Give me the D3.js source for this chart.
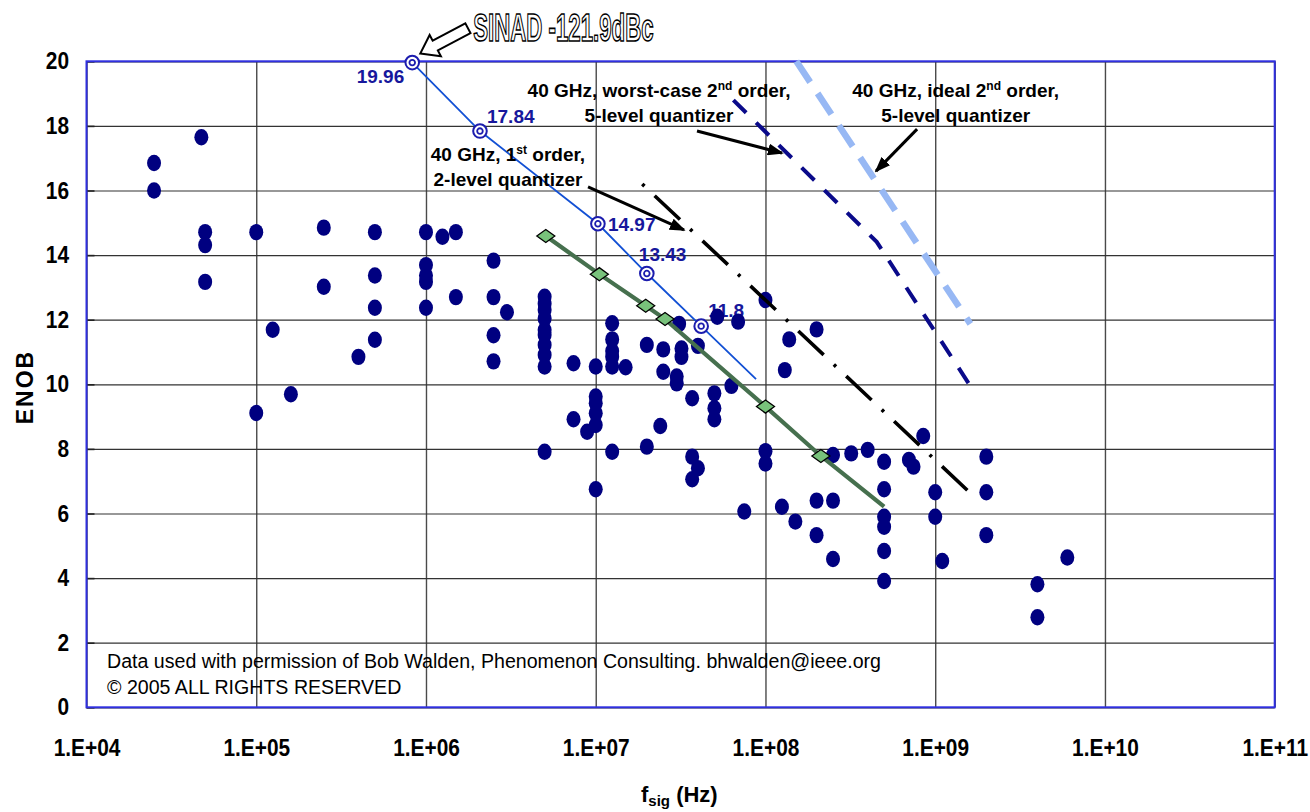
<!DOCTYPE html>
<html>
<head>
<meta charset="utf-8">
<script src="https://cdn.jsdelivr.net/npm/d3@7"></script>
<style>
  body { margin: 0; background: #fff; }
  svg { display: block; font-family: "Liberation Sans", Arial, sans-serif; }
</style>
</head>
<body>
<svg id="chart"></svg>
<script>
//survey points: signal frequency (Hz) and ENOB
let dotFreq = [
  2.5e4, 2.5e4, 4.75e4, 5e4, 5e4, 5e4, 1e5, 1.25e5, 1e5, 1.6e5,
  2.5e5, 2.5e5, 4e5, 5e5, 5e5, 5e5, 5e5, 1e6, 1e6, 1e6,
  1e6, 1e6, 1.25e6, 1.5e6, 1.5e6, 2.5e6, 2.5e6, 2.5e6, 2.5e6, 3e6,
  5e6, 5e6, 5e6, 5e6, 5e6, 5e6, 5e6, 5e6, 5e6, 5e6,
  7.4e6, 1e7, 1.25e7, 1.25e7, 1.25e7, 1.25e7, 1.25e7, 1.5e7, 1e7, 1e7,
  1e7, 1e7, 7.4e6, 8.9e6, 1.25e7, 1e7, 2e7, 2.5e7, 3.1e7, 3.2e7,
  3.2e7, 2.5e7, 3e7, 3e7, 4e7, 5.2e7, 6.9e7, 6.3e7, 5e7, 5e7,
  5e7, 3.7e7, 2.4e7, 2e7, 3.7e7, 4e7, 3.7e7, 1e8, 1.38e8, 1.3e8,
  2e8, 1e8, 1e8, 7.5e7, 1.25e8, 1.5e8, 2e8, 2.5e8, 2e8, 2.5e8,
  3.2e8, 4e8, 5e8, 7e8, 7.45e8, 8.5e8, 5e8, 5e8, 5e8, 1e9,
  1e9, 2e9, 2e9, 2e9, 2.5e8, 5e8, 5e8, 1.1e9, 4e9, 4e9, 6e9
];
let dotEnob = [
  16.85, 16.0, 17.65, 14.71, 14.31, 13.17, 14.71, 11.69, 9.11, 9.69,
  14.85, 13.02, 10.85, 14.71, 13.37, 12.37, 11.38, 14.71, 13.69, 13.37,
  13.17, 12.37, 14.57, 14.71, 12.7, 13.83, 12.7, 11.52, 10.71, 12.23,
  12.71, 12.49, 12.3, 12.04, 11.68, 11.53, 11.22, 10.91, 10.55, 7.91,
  10.65, 10.55, 11.89, 11.39, 11.03, 10.85, 10.55, 10.53, 9.62, 9.41,
  9.1, 8.74, 8.92, 8.53, 7.91, 6.75, 11.22, 11.08, 11.87, 11.11,
  10.85, 10.39, 10.24, 10.03, 11.19, 12.09, 11.94, 9.95, 9.72, 9.26,
  8.92, 9.57, 8.71, 8.07, 7.76, 7.4, 7.06, 12.61, 11.39, 10.44,
  11.7, 7.93, 7.55, 6.06, 6.21, 5.75, 6.4, 6.4, 5.33, 7.81,
  7.86, 7.97, 7.6, 7.66, 7.45, 8.4, 6.75, 5.9, 5.59, 6.66,
  5.9, 7.76, 6.66, 5.33, 4.59, 4.84, 3.91, 4.53, 3.81, 2.79, 4.64
];

//SINAD -121.9dBc line, last point has no marker
let sinadFreq = [8.3e5, 2.08e6, 1.03e7, 2e7, 4.18e7, 8.8e7];
let sinadEnob = [19.96, 17.84, 14.97, 13.43, 11.8, 10.16];
let sinadLabels = ["19.96", "17.84", "14.97", "13.43", "11.8"];

//green fitted line with diamonds, last point has no marker
let fitFreq = [5.08e6, 1.05e7, 1.97e7, 2.56e7, 1e8, 2.12e8, 5e8];
let fitEnob = [14.59, 13.41, 12.43, 12.02, 9.31, 7.78, 6.21];

//40 GHz modulator curves
let firstOrderFreq = [1.88e7, 1.56e9];
let firstOrderEnob = [16.2, 6.7];
let worstSecondFreq = [6.47e7, 4.52e8, 1.68e9];
let worstSecondEnob = [18.8, 14.41, 9.8];
let idealSecondFreq = [1.52e8, 1.61e9];
let idealSecondEnob = [20.0, 11.87];

let xTickValues = [1e4, 1e5, 1e6, 1e7, 1e8, 1e9, 1e10, 1e11];
let xTickLabels = ["1.E+04", "1.E+05", "1.E+06", "1.E+07", "1.E+08", "1.E+09", "1.E+10", "1.E+11"];
let yTickValues = [0, 2, 4, 6, 8, 10, 12, 14, 16, 18, 20];

//canvas and plot box
let width = 1310;
let height = 812;
let plotLeft = 86.5;
let plotRight = 1274.7;
let plotTop = 61.3;
let plotBottom = 707.3;
let squeeze = 0.87; //tick labels are condensed in the original

let svg = d3.select("#chart").attr("width", width).attr("height", height);

let xScale = d3.scaleLog().domain([1e4, 1e11]).range([plotLeft, plotRight]);
let yScale = d3.scaleLinear().domain([0, 20]).range([plotBottom, plotTop]);

let pair = (fs, es) => fs.map((f, i) => [f, es[i]]);

//gridlines
svg.append("g")
  .attr("transform", "translate(0," + plotBottom + ")")
  .call(d3.axisBottom(xScale).tickValues(xTickValues).tickSize(-(plotBottom - plotTop)).tickFormat(""))
  .call((g) => g.select(".domain").remove())
  .selectAll("line").attr("stroke", "#4a4a4a").attr("stroke-width", 1.4);

svg.append("g")
  .attr("transform", "translate(" + plotLeft + ",0)")
  .call(d3.axisLeft(yScale).tickValues(yTickValues).tickSize(-(plotRight - plotLeft)).tickFormat(""))
  .call((g) => g.select(".domain").remove())
  .selectAll("line").attr("stroke", "#333").attr("stroke-width", 1.2);

//axes with labels
let yAxis = svg.append("g")
  .attr("transform", "translate(" + plotLeft + ",0)")
  .call(d3.axisLeft(yScale).tickValues(yTickValues).tickSize(-8).tickPadding(17));
yAxis.select(".domain").remove();
yAxis.selectAll("line").attr("stroke", "#222").attr("stroke-width", 1.6);
yAxis.selectAll("text")
  .attr("x", -17.5 / squeeze)
  .attr("transform", "scale(" + squeeze + ",1)")
  .attr("fill", "#000")
  .style("font-size", "24px")
  .style("font-weight", "bold")
  .style("font-family", "'Liberation Sans', Arial, sans-serif");

let xAxis = svg.append("g")
  .attr("transform", "translate(0," + plotBottom + ")")
  .call(d3.axisBottom(xScale).tickValues(xTickValues).tickSize(0).tickFormat((d, i) => xTickLabels[i]));
xAxis.select(".domain").remove();
xAxis.selectAll("text")
  .attr("y", 48.5)
  .attr("dy", 0)
  .attr("transform", "scale(" + squeeze + ",1)")
  .attr("fill", "#000")
  .style("font-size", "24px")
  .style("font-weight", "bold")
  .style("font-family", "'Liberation Sans', Arial, sans-serif");

//plot border
svg.append("rect")
  .attr("x", plotLeft)
  .attr("y", plotTop)
  .attr("width", plotRight - plotLeft)
  .attr("height", plotBottom - plotTop)
  .attr("fill", "none")
  .attr("stroke", "#2f2fe0")
  .attr("stroke-width", 2);

//axis titles
svg.append("text")
  .attr("transform", "translate(33,387) rotate(-90)")
  .attr("text-anchor", "middle")
  .style("font-size", "23px")
  .style("font-weight", "bold")
  .style("letter-spacing", "2px")
  .text("ENOB");

let xTitle = svg.append("text")
  .attr("x", 641)
  .attr("y", 802)
  .style("font-size", "22px")
  .style("font-weight", "bold");
xTitle.append("tspan").text("f");
xTitle.append("tspan").attr("dy", 4).style("font-size", "15px").text("sig");
xTitle.append("tspan").attr("dy", -4).text(" (Hz)");

//copyright note
svg.append("text")
  .attr("x", 107).attr("y", 668)
  .style("font-size", "19.6px")
  .text("Data used with permission of Bob Walden, Phenomenon Consulting. bhwalden@ieee.org");
svg.append("text")
  .attr("x", 107).attr("y", 694)
  .style("font-size", "19.6px")
  .text("\u00a9 2005 ALL RIGHTS RESERVED");

//SINAD value labels sit under the dots
let labelOffsets = [[-8, 20, "end"], [7, -8, "start"], [10, 7, "start"], [-8, -13, "start"], [7, -9, "start"]];
svg.append("g")
  .selectAll("text")
  .data(sinadLabels)
  .enter()
  .append("text")
  .attr("x", (d, i) => xScale(sinadFreq[i]) + labelOffsets[i][0])
  .attr("y", (d, i) => yScale(sinadEnob[i]) + labelOffsets[i][1])
  .attr("text-anchor", (d, i) => labelOffsets[i][2])
  .attr("fill", "#17179c")
  .style("font-size", "19px")
  .style("font-weight", "bold")
  .text((d) => d);

//survey dots
svg.append("g")
  .selectAll("ellipse")
  .data(pair(dotFreq, dotEnob))
  .enter()
  .append("ellipse")
  .attr("cx", (d) => xScale(d[0]))
  .attr("cy", (d) => yScale(d[1]))
  .attr("rx", 7)
  .attr("ry", 8.2)
  .attr("fill", "#000080");

let line = d3.line().x((d) => xScale(d[0])).y((d) => yScale(d[1]));

//40 GHz curves
svg.append("path")
  .datum(pair(idealSecondFreq, idealSecondEnob))
  .attr("d", line)
  .attr("fill", "none")
  .attr("stroke", "#97b8f4")
  .attr("stroke-width", 6.5)
  .attr("stroke-dasharray", "25 13.5");

svg.append("path")
  .datum(pair(worstSecondFreq, worstSecondEnob))
  .attr("d", line)
  .attr("fill", "none")
  .attr("stroke", "#0a0a8a")
  .attr("stroke-width", 4)
  .attr("stroke-dasharray", "18 14");

svg.append("path")
  .datum(pair(firstOrderFreq, firstOrderEnob))
  .attr("d", line)
  .attr("fill", "none")
  .attr("stroke", "#000")
  .attr("stroke-width", 3.6)
  .attr("stroke-dasharray", "3 14 34.8 14");

//green fit with diamonds
svg.append("path")
  .datum(pair(fitFreq, fitEnob))
  .attr("d", line)
  .attr("fill", "none")
  .attr("stroke", "#46704e")
  .attr("stroke-width", 4.2);

svg.append("g")
  .selectAll("path")
  .data(pair(fitFreq, fitEnob).slice(0, fitFreq.length - 1))
  .enter()
  .append("path")
  .attr("transform", (d) => "translate(" + xScale(d[0]) + "," + yScale(d[1]) + ")")
  .attr("d", "M-9,0L0,-6.5L9,0L0,6.5Z")
  .attr("fill", "#78c27b")
  .attr("stroke", "#000")
  .attr("stroke-width", 1.3);

//SINAD line with ring markers
svg.append("path")
  .datum(pair(sinadFreq, sinadEnob))
  .attr("d", line)
  .attr("fill", "none")
  .attr("stroke", "#1250d4")
  .attr("stroke-width", 1.8);

let rings = svg.append("g")
  .selectAll("g")
  .data(pair(sinadFreq, sinadEnob).slice(0, sinadLabels.length))
  .enter()
  .append("g")
  .attr("transform", (d) => "translate(" + xScale(d[0]) + "," + yScale(d[1]) + ")");
rings.append("circle").attr("r", 6.8).attr("fill", "#fff").attr("stroke", "#1c1cae").attr("stroke-width", 2);
rings.append("circle").attr("r", 2.8).attr("fill", "#fff").attr("stroke", "#1c1cae").attr("stroke-width", 1.8);

//annotations
svg.append("defs").append("marker")
  .attr("id", "head")
  .attr("markerUnits", "userSpaceOnUse")
  .attr("markerWidth", 16)
  .attr("markerHeight", 12)
  .attr("refX", 14)
  .attr("refY", 6)
  .attr("orient", "auto")
  .append("path")
  .attr("d", "M0,0L16,6L0,12Z")
  .attr("fill", "#000");

let notes = [
  { f: 2.36e7, e: 18.89, lines: [["40 GHz, worst-case 2", "nd", " order,"], ["5-level quantizer"]] },
  { f: 3.04e6, e: 16.91, lines: [["40 GHz, 1", "st", " order,"], ["2-level quantizer"]] },
  { f: 1.32e9, e: 18.89, lines: [["40 GHz, ideal 2", "nd", " order,"], ["5-level quantizer"]] }
];
let arrows = [
  [[3.95e7, 17.84], [1.25e8, 17.16]],
  [[9.01e6, 16.11], [3.31e7, 14.78]],
  [[7.82e8, 17.9], [4.48e8, 16.6]]
];

notes.forEach((n) => {
  n.lines.forEach((parts, li) => {
    let t = svg.append("text")
      .attr("x", xScale(n.f))
      .attr("y", yScale(n.e) + li * 24.5)
      .attr("text-anchor", "middle")
      .style("font-size", "19px")
      .style("font-weight", "bold");
    t.append("tspan").text(parts[0]);
    if (parts.length > 1) {
      t.append("tspan").attr("dy", -7).style("font-size", "12px").text(parts[1]);
      t.append("tspan").attr("dy", 7).text(parts[2]);
    }
  });
});

svg.append("g")
  .selectAll("path")
  .data(arrows)
  .enter()
  .append("path")
  .attr("d", line)
  .attr("fill", "none")
  .attr("stroke", "#000")
  .attr("stroke-width", 3)
  .attr("marker-end", "url(#head)");

//SINAD callout: outlined block arrow and outlined condensed text
let cx = xScale(sinadFreq[0]);
let cy = yScale(sinadEnob[0]);
svg.append("path")
  .attr("transform", "translate(" + (cx + 8) + "," + (cy - 9) + ") rotate(152)")
  .attr("d", "M0,0L-17,-12L-17,-5.5L-54,-5.5L-54,5.5L-17,5.5L-17,12Z")
  .attr("fill", "#fff")
  .attr("stroke", "#000")
  .attr("stroke-width", 2);

svg.append("text")
  .attr("transform", "translate(" + (cx + 61) + "," + (cy - 21.5) + ") scale(0.585,1)")
  .attr("fill", "#fff")
  .attr("stroke", "#000")
  .attr("stroke-width", 1.6)
  .style("font-size", "38px")
  .style("font-weight", "bold")
  .text("SINAD -121.9dBc");
</script>
</body>
</html>
